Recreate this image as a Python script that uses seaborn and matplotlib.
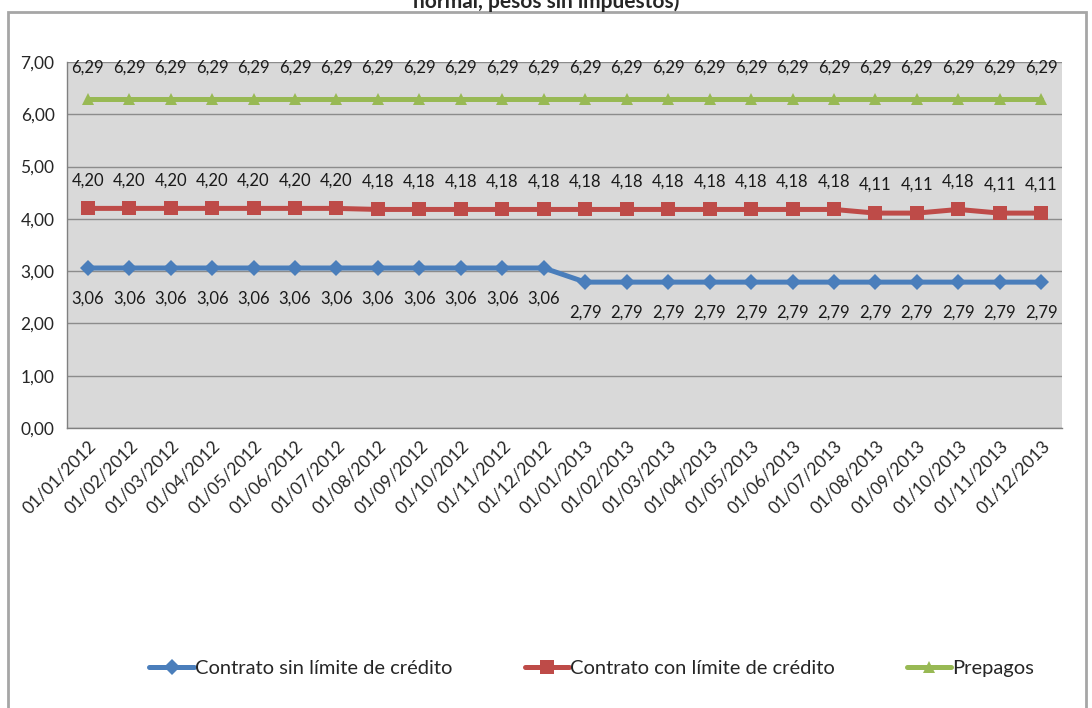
import matplotlib
matplotlib.use("Agg")
import matplotlib.pyplot as plt
import matplotlib.patches as mpatches
import seaborn as sns
import pandas as pd

# Monthly dates (first day of each month, 2012-2013)
fechas = [f"01/{m:02d}/{y}" for y in (2012, 2013) for m in range(1, 13)]

contrato_sin_limite = [3.06] * 12 + [2.79] * 12
contrato_con_limite = [4.20, 4.20, 4.20, 4.20, 4.20, 4.20, 4.20,
                       4.18, 4.18, 4.18, 4.18, 4.18,
                       4.18, 4.18, 4.18, 4.18, 4.18, 4.18, 4.18,
                       4.11, 4.11, 4.18, 4.11, 4.11]
prepagos = [6.29] * 24

series_names = ["Contrato sin límite de crédito",
                "Contrato con límite de crédito",
                "Prepagos"]
series_values = [contrato_sin_limite, contrato_con_limite, prepagos]
y_ticks = [0, 1, 2, 3, 4, 5, 6, 7]

colors = ["#4a7ebb", "#be4b48", "#98b954"]
markers = ["D", "s", "^"]
marker_sizes = [8, 10, 9]

sns.set_theme(style="white")
plt.rcParams["font.family"] = ["Lato", "DejaVu Sans"]

df = pd.DataFrame({
    "fecha": fechas * 3,
    "valor": sum(series_values, []),
    "serie": sum([[n] * len(fechas) for n in series_names], []),
})

fig = plt.figure(figsize=(10.92, 7.08), dpi=100)
fig.patch.set_facecolor("white")

# outer chart frame
frame = mpatches.Rectangle((8 / 1092, -0.01), 1078 / 1092, 1 - 12 / 708 + 0.01,
                           transform=fig.transFigure, facecolor="none",
                           edgecolor="#a6a6a6", linewidth=2.0, zorder=-5)
fig.patches.append(frame)

fig.text(0.5, 1 - 2 / 708, "normal, pesos sin impuestos)", ha="center", va="center",
         fontsize=15, fontweight="bold")

ax = fig.add_axes([67 / 1092, 1 - 428 / 708, 995 / 1092, 366 / 708])
ax.set_facecolor("#d9d9d9")

sns.lineplot(data=df, x="fecha", y="valor", hue="serie", style="serie",
             hue_order=series_names, style_order=series_names,
             palette=colors, markers=markers, dashes=False, linewidth=3.6,
             markeredgewidth=0, ax=ax, sort=False, legend=False, zorder=3)
for line, ms in zip(ax.lines, marker_sizes):
    line.set_markersize(ms)

# data labels: below the blue series, above the red and green ones
offsets = [-31, 28, 31]
for vals, off in zip(series_values, offsets):
    for i, v in enumerate(vals):
        ax.annotate(f"{v:.2f}".replace(".", ","), (i, v), xytext=(0, off),
                    textcoords="offset pixels",
                    ha="center", va="center", fontsize=12, color="#1a1a1a")

ax.set_xlim(-0.5, len(fechas) - 0.5)
ax.set_ylim(0, 7)
ax.set_yticks(y_ticks)
ax.set_yticklabels([f"{t:.2f}".replace(".", ",") for t in y_ticks], fontsize=12.5)
ax.set_xticks(range(len(fechas)))
ax.set_xticklabels(fechas, rotation=45, ha="right", rotation_mode="anchor", fontsize=12.5)
ax.set_xlabel("")
ax.set_ylabel("")
ax.yaxis.grid(True, color="#8c8c8c", linewidth=1)
ax.set_axisbelow(True)
for s in ["top", "right"]:
    ax.spines[s].set_visible(False)
for s in ["left", "bottom"]:
    ax.spines[s].set_color("#808080")
    ax.spines[s].set_linewidth(1)
ax.tick_params(axis="y", length=5, color="#808080", direction="out", pad=4)
ax.tick_params(axis="x", length=5, color="#808080", direction="out", pad=7)
# category separator ticks between points
ax.set_xticks([i - 0.5 for i in range(len(fechas) + 1)], minor=True)
ax.tick_params(axis="x", which="major", length=0)
ax.tick_params(axis="x", which="minor", length=5, color="#808080")

handles = [plt.Line2D([], [], color=c, marker=m, markersize=ms, linewidth=3.6,
                      markeredgewidth=0)
           for c, m, ms in zip(colors, markers, marker_sizes)]
fig.legend(handles, series_names, loc="center", bbox_to_anchor=(0.542, 1 - 668 / 708),
           ncol=3, frameon=False, fontsize=14.5, handlelength=2.2, handletextpad=0.05,
           columnspacing=3.6)

fig.savefig("out.png", dpi=100)
